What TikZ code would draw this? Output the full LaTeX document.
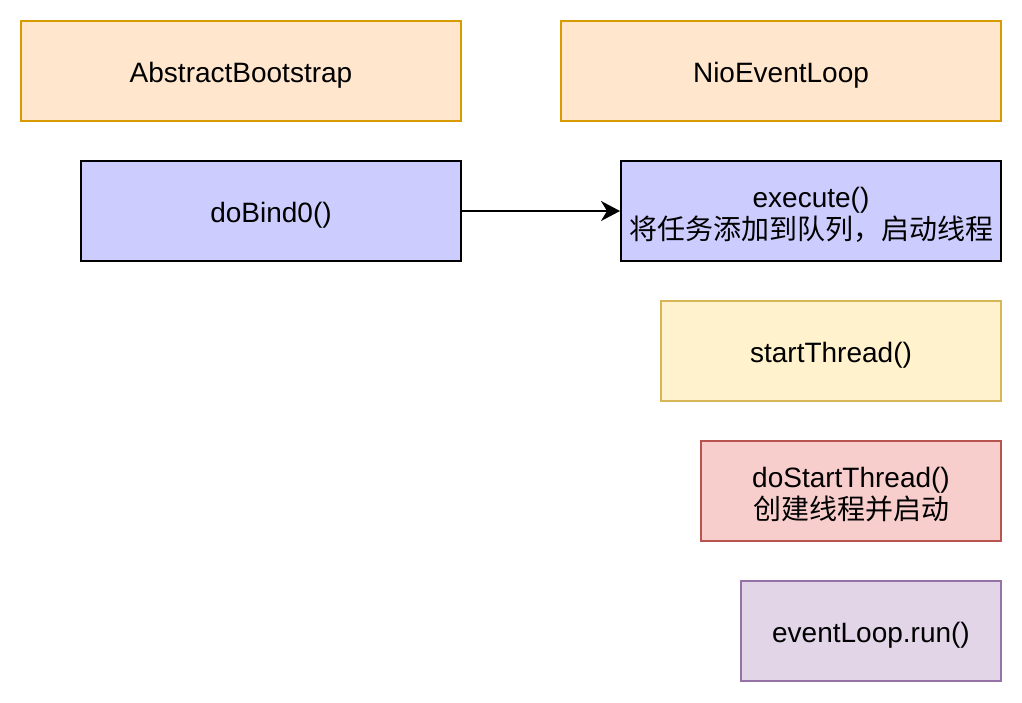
\documentclass[tikz,border=0pt]{standalone}
\usepackage{fontspec}
\setmainfont{Liberation Sans}
\newfontfamily\cjk{Noto Sans CJK SC}
\usetikzlibrary{arrows.meta}
\definecolor{orangefill}{HTML}{FFE6CC}
\definecolor{orangeline}{HTML}{D79B00}
\definecolor{bluefill}{HTML}{CCCCFF}
\definecolor{yellowfill}{HTML}{FFF2CC}
\definecolor{yellowline}{HTML}{D6B656}
\definecolor{redfill}{HTML}{F8CECC}
\definecolor{redline}{HTML}{B85450}
\definecolor{purplefill}{HTML}{E1D5E7}
\definecolor{purpleline}{HTML}{9673A6}
\tikzset{
  box/.style={draw, line width=2pt, rectangle, inner sep=0pt, minimum height=100pt},
  txt/.style={align=center, inner sep=0pt, yshift=-4pt,
    font=\fontsize{28}{32}\selectfont},
  orangebox/.style={box, fill=orangefill, draw=orangeline},
  bluebox/.style={box, fill=bluefill, draw=black},
  yellowbox/.style={box, fill=yellowfill, draw=yellowline},
  redbox/.style={box, fill=redfill, draw=redline},
  purplebox/.style={box, fill=purplefill, draw=purpleline},
  conn/.style={line width=2pt, -{Stealth[length=19pt,width=20pt,inset=6pt]}}
}
\begin{document}
\begin{tikzpicture}[x=1pt,y=-1pt]
\useasboundingbox (0,0) rectangle (1022,702);
\node[orangebox, minimum width=440pt, label={[txt]center:AbstractBootstrap}] (ab) at (241,71) {};
\node[orangebox, minimum width=440pt, label={[txt]center:NioEventLoop}] (nel) at (781,71) {};
\node[bluebox, minimum width=380pt, label={[txt]center:doBind0()}] (bind) at (271,211) {};
\node[bluebox, minimum width=380pt, label={[txt]center:execute()\\{\cjk 将任务添加到队列，启动线程}}] (exec) at (811,211) {};
\node[yellowbox, minimum width=340pt, label={[txt]center:startThread()}] (st) at (831,351) {};
\node[redbox, minimum width=300pt, label={[txt]center:doStartThread()\\{\cjk 创建线程并启动}}] (dst) at (851,491) {};
\node[purplebox, minimum width=260pt, label={[txt]center:eventLoop.run()}] (run) at (871,631) {};
\draw[conn] (bind.east) -- (exec.west);
\end{tikzpicture}
\end{document}
